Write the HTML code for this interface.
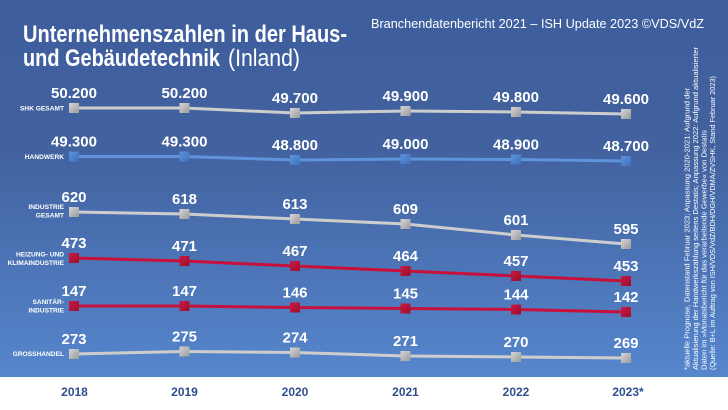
<!DOCTYPE html>
<html><head><meta charset="utf-8"><style>
html,body{margin:0;padding:0;background:#fff;}
svg{display:block;}
text{font-family:"Liberation Sans",sans-serif;}
</style></head><body>
<svg width="728" height="410" viewBox="0 0 728 410" xmlns="http://www.w3.org/2000/svg">
<defs>
<linearGradient id="bg" x1="0" y1="0" x2="0" y2="1">
<stop offset="0" stop-color="#3e5d9d"/>
<stop offset="0.4" stop-color="#42629f"/>
<stop offset="1" stop-color="#5686cd"/>
</linearGradient>
<linearGradient id="gm" x1="0" y1="0" x2="1" y2="1">
<stop offset="0" stop-color="#d6d6d6"/><stop offset="1" stop-color="#9a9a9a"/>
</linearGradient>
<linearGradient id="rm" x1="0" y1="0" x2="1" y2="1">
<stop offset="0" stop-color="#c81a44"/><stop offset="1" stop-color="#9c0f2c"/>
</linearGradient>
<linearGradient id="bm" x1="0" y1="0" x2="1" y2="1">
<stop offset="0" stop-color="#5e92dc"/><stop offset="1" stop-color="#3f72bd"/>
</linearGradient>
</defs>
<rect x="0" y="0" width="728" height="377" fill="url(#bg)"/>
<rect x="0" y="377" width="728" height="33" fill="#ffffff"/>

<!-- Title -->
<text x="23" y="42" font-size="24" font-weight="bold" fill="#fff" textLength="324" lengthAdjust="spacingAndGlyphs">Unternehmenszahlen in der Haus-</text>
<text x="23" y="66" font-size="24" font-weight="bold" fill="#fff" textLength="197" lengthAdjust="spacingAndGlyphs">und Gebäudetechnik</text>
<text x="228" y="66" font-size="24" fill="#fff" textLength="72" lengthAdjust="spacingAndGlyphs">(Inland)</text>
<text x="371" y="28" font-size="13" fill="#fff" textLength="333" lengthAdjust="spacingAndGlyphs">Branchendatenbericht 2021 – ISH Update 2023 ©VDS/VdZ</text>

<!-- Lines -->
<g fill="none" stroke-width="3" stroke-linejoin="round">
<polyline stroke="#cdcdcd" points="74,108 184.5,108 295,113 405.5,111 516,112 626,114"/>
<polyline stroke="#5f93dc" points="74,156.5 184.5,156.5 295,160 405.5,159 516,159.5 626,161"/>
<polyline stroke="#cdcdcd" points="74,212 184.5,214 295,219 405.5,224 516,235 626,244"/>
<polyline stroke="#c8103a" points="74,258 184.5,261 295,266 405.5,271 516,276 626,281"/>
<polyline stroke="#c8103a" points="74,306 184.5,306 295,307.5 405.5,308.5 516,309.5 626,312"/>
<polyline stroke="#cdcdcd" points="74,354 184.5,351.5 295,352.5 405.5,356 516,357 626,358"/>
</g>

<!-- Markers -->
<g fill="url(#gm)">
<rect x="69" y="103" width="10" height="10"/><rect x="179.5" y="103" width="10" height="10"/><rect x="290" y="108" width="10" height="10"/><rect x="400.5" y="106" width="10" height="10"/><rect x="511" y="107" width="10" height="10"/><rect x="621" y="109" width="10" height="10"/>
<rect x="69" y="207" width="10" height="10"/><rect x="179.5" y="209" width="10" height="10"/><rect x="290" y="214" width="10" height="10"/><rect x="400.5" y="219" width="10" height="10"/><rect x="511" y="230" width="10" height="10"/><rect x="621" y="239" width="10" height="10"/>
<rect x="69" y="349" width="10" height="10"/><rect x="179.5" y="346.5" width="10" height="10"/><rect x="290" y="347.5" width="10" height="10"/><rect x="400.5" y="351" width="10" height="10"/><rect x="511" y="352" width="10" height="10"/><rect x="621" y="353" width="10" height="10"/>
</g>
<g fill="url(#bm)">
<rect x="69" y="151.5" width="10" height="10"/><rect x="179.5" y="151.5" width="10" height="10"/><rect x="290" y="155" width="10" height="10"/><rect x="400.5" y="154" width="10" height="10"/><rect x="511" y="154.5" width="10" height="10"/><rect x="621" y="156" width="10" height="10"/>
</g>
<g fill="url(#rm)">
<rect x="69" y="253" width="10" height="10"/><rect x="179.5" y="256" width="10" height="10"/><rect x="290" y="261" width="10" height="10"/><rect x="400.5" y="266" width="10" height="10"/><rect x="511" y="271" width="10" height="10"/><rect x="621" y="276" width="10" height="10"/>
<rect x="69" y="301" width="10" height="10"/><rect x="179.5" y="301" width="10" height="10"/><rect x="290" y="302.5" width="10" height="10"/><rect x="400.5" y="303.5" width="10" height="10"/><rect x="511" y="304.5" width="10" height="10"/><rect x="621" y="307" width="10" height="10"/>
</g>

<!-- Value labels -->
<g font-size="15" font-weight="bold" fill="#fff" text-anchor="middle">
<text x="74" y="98">50.200</text><text x="184.5" y="98">50.200</text><text x="295" y="103">49.700</text><text x="405.5" y="101">49.900</text><text x="516" y="102">49.800</text><text x="626" y="104">49.600</text>
<text x="74" y="146.5">49.300</text><text x="184.5" y="146.5">49.300</text><text x="295" y="150">48.800</text><text x="405.5" y="149">49.000</text><text x="516" y="149.5">48.900</text><text x="626" y="151">48.700</text>
<text x="74" y="202">620</text><text x="184.5" y="204">618</text><text x="295" y="209">613</text><text x="405.5" y="214">609</text><text x="516" y="225">601</text><text x="626" y="234">595</text>
<text x="74" y="248">473</text><text x="184.5" y="251">471</text><text x="295" y="256">467</text><text x="405.5" y="261">464</text><text x="516" y="266">457</text><text x="626" y="271">453</text>
<text x="74" y="296">147</text><text x="184.5" y="296">147</text><text x="295" y="297.5">146</text><text x="405.5" y="298.5">145</text><text x="516" y="299.5">144</text><text x="626" y="302">142</text>
<text x="74" y="344">273</text><text x="184.5" y="341.5">275</text><text x="295" y="342.5">274</text><text x="405.5" y="346">271</text><text x="516" y="347">270</text><text x="626" y="348">269</text>
</g>

<!-- Category labels -->
<g font-size="6.6" font-weight="bold" fill="#fff" text-anchor="end">
<text x="64" y="110.5">SHK GESAMT</text>
<text x="64" y="159">HANDWERK</text>
<text x="64" y="209">INDUSTRIE</text>
<text x="64" y="217.5">GESAMT</text>
<text x="64" y="256.5">HEIZUNG- UND</text>
<text x="64" y="265">KLIMAINDUSTRIE</text>
<text x="64" y="304">SANITÄR-</text>
<text x="64" y="312.5">INDUSTRIE</text>
<text x="64" y="356">GROSSHANDEL</text>
</g>

<!-- Year labels -->
<g font-size="12" font-weight="bold" fill="#2f4f8e" text-anchor="middle">
<text x="74.5" y="396">2018</text><text x="184.5" y="396">2019</text><text x="295" y="396">2020</text><text x="405.5" y="396">2021</text><text x="516" y="396">2022</text><text x="628" y="396">2023*</text>
</g>

<!-- Footnote -->
<g font-size="7" fill="#fff">
<text transform="translate(689.5,370) rotate(-90)" textLength="282" lengthAdjust="spacingAndGlyphs">*aktuelle Prognose, Datenstand Februar 2023; Anpassung 2020-2021: Aufgrund der</text>
<text transform="translate(698,370) rotate(-90)" textLength="323" lengthAdjust="spacingAndGlyphs">Aktualisierung der Handwerkszählung seitens Destatis; Anpassung 2022: Aufgrund aktualisierter</text>
<text transform="translate(706.5,370) rotate(-90)" textLength="240" lengthAdjust="spacingAndGlyphs">Daten im »Monatsbericht für das verarbeitende Gewerbe« von Destatis</text>
<text transform="translate(715,370) rotate(-90)" textLength="294" lengthAdjust="spacingAndGlyphs">(Quelle: B+L im Auftrag von ISH/VDS/VdZ/BDH/DGH/VDMA/ZVSHK, Stand Februar 2023)</text>
</g>
</svg>
</body></html>
